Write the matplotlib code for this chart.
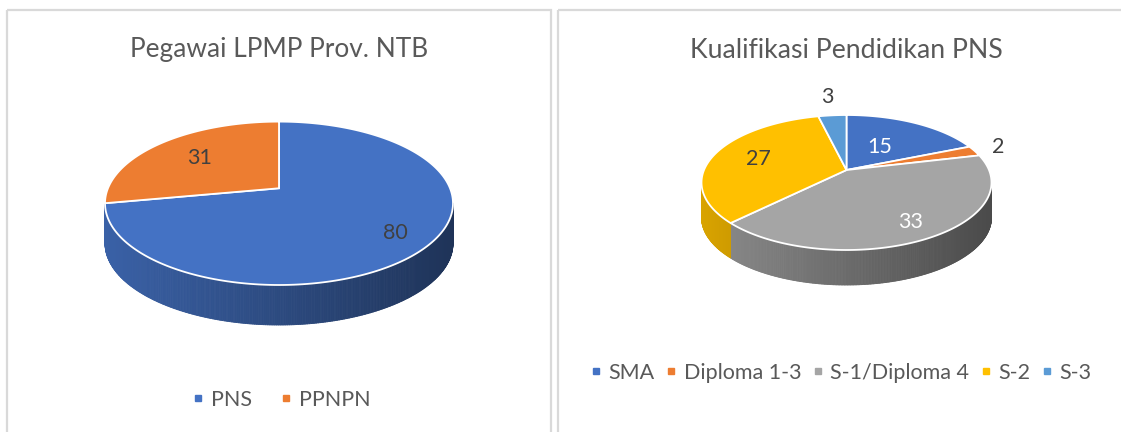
import numpy as np
import matplotlib.pyplot as plt
from matplotlib.patches import Polygon, Rectangle
from matplotlib.collections import PolyCollection
from matplotlib.lines import Line2D
from matplotlib.colors import to_rgb

# data
pegawai_labels = ["PNS", "PPNPN"]
pegawai_values = [80, 31]
pegawai_colors = ["#4472C4", "#ED7D31"]

pendidikan_labels = ["SMA", "Diploma 1-3", "S-1/Diploma 4", "S-2", "S-3"]
pendidikan_values = [15, 2, 33, 27, 3]
pendidikan_colors = ["#4472C4", "#ED7D31", "#A5A5A5", "#FFC000", "#5B9BD5"]

plt.rcParams["font.family"] = ["Lato", "DejaVu Sans"]

W, H = 1121, 432
fig = plt.figure(figsize=(W / 100, H / 100), dpi=100)
ax = fig.add_axes([0, 0, 1, 1])
ax.set_xlim(0, W)
ax.set_ylim(H, 0)
ax.axis("off")

# chart frames
for x0, x1 in [(7, 551), (558, 1130)]:
    ax.add_patch(Rectangle((x0, 10), x1 - x0, 440, fill=False, ec="#D9D9D9", lw=1.6))


def pie3d(ax, values, colors, cx, cy, a, b, depth, k, label_r, label_colors):
    values = np.asarray(values, dtype=float)
    bounds = 90 - 360 * np.concatenate([[0], np.cumsum(values)]) / values.sum()
    s = np.sqrt(1 - k * k)

    def proj(t, r=1.0):
        u, v = r * np.cos(np.radians(t)), r * np.sin(np.radians(t))
        d = 1 + k * v
        return cx + a * u * s / d, cy - b * (v + k) / d

    # side walls (front half only), shaded darker to the right
    polys, fcs = [], []
    for i in range(len(values)):
        ts = np.linspace(bounds[i], bounds[i + 1], max(int(abs(bounds[i + 1] - bounds[i])) * 2, 2))
        xs, ys = proj(ts)
        for j in range(len(ts) - 1):
            tm = (ts[j] + ts[j + 1]) / 2
            vm = np.sin(np.radians(tm))
            if (vm + k) >= 0:
                continue
            um = (proj(tm)[0] - cx) / a
            shade = 0.85 - 0.4 * (um + 1) / 2
            c = np.array(to_rgb(colors[i])) * shade
            polys.append([(xs[j], ys[j]), (xs[j + 1], ys[j + 1]),
                          (xs[j + 1], ys[j + 1] + depth), (xs[j], ys[j] + depth)])
            fcs.append(c)
    ax.add_collection(PolyCollection(polys, facecolors=fcs, edgecolors=fcs, linewidths=0.6))

    # top faces
    vx, vy = proj(0, 0)
    for i in range(len(values)):
        ts = np.linspace(bounds[i], bounds[i + 1], 200)
        xs, ys = proj(ts)
        pts = [(vx, vy)] + list(zip(xs, ys))
        ax.add_patch(Polygon(pts, closed=True, fc=colors[i], ec="white", lw=1.3))

    # data labels
    for i, val in enumerate(values):
        tm = (bounds[i] + bounds[i + 1]) / 2
        lx, ly = proj(tm, label_r[i])
        ax.text(lx, ly, f"{int(val)}", ha="center", va="center", fontsize=15.5,
                color=label_colors[i])


# left chart
ax.text(279, 50, "Pegawai LPMP Prov. NTB", ha="center", va="center", fontsize=18.9, color="#595959")
pie3d(ax, pegawai_values, pegawai_colors, 279, 203.3, 174, 81.7, 40, 0.184,
      [0.8, 0.65], ["#404040", "#404040"])
h1 = [Line2D([], [], ls="", marker="s", ms=5, color=c) for c in pegawai_colors]
ax.legend(h1, pegawai_labels, loc="center", bbox_to_anchor=(281 / W, 1 - 400 / H),
          ncol=2, frameon=False, fontsize=15.5, handlelength=0.6, handletextpad=0.3,
          columnspacing=1.25, labelcolor="#595959", borderpad=0)

# right chart
ax.text(846, 50, "Kualifikasi Pendidikan PNS", ha="center", va="center", fontsize=19.2, color="#595959")
pie3d(ax, pendidikan_values, pendidikan_colors, 846.5, 182.5, 145, 67.5, 35, 0.185,
      [0.45, 1.2, 0.8, 0.66, 1.43], ["white", "#404040", "white", "#404040", "#404040"])
h2 = [Line2D([], [], ls="", marker="s", ms=5, color=c) for c in pendidikan_colors]
fig.legend(h2, pendidikan_labels, loc="center", bbox_to_anchor=(840.5 / W, 1 - 373 / H),
           ncol=5, frameon=False, fontsize=15.5, handlelength=0.6, handletextpad=0.3,
           columnspacing=0.45, labelcolor="#595959", borderpad=0)

fig.savefig("out.png", dpi=100)
